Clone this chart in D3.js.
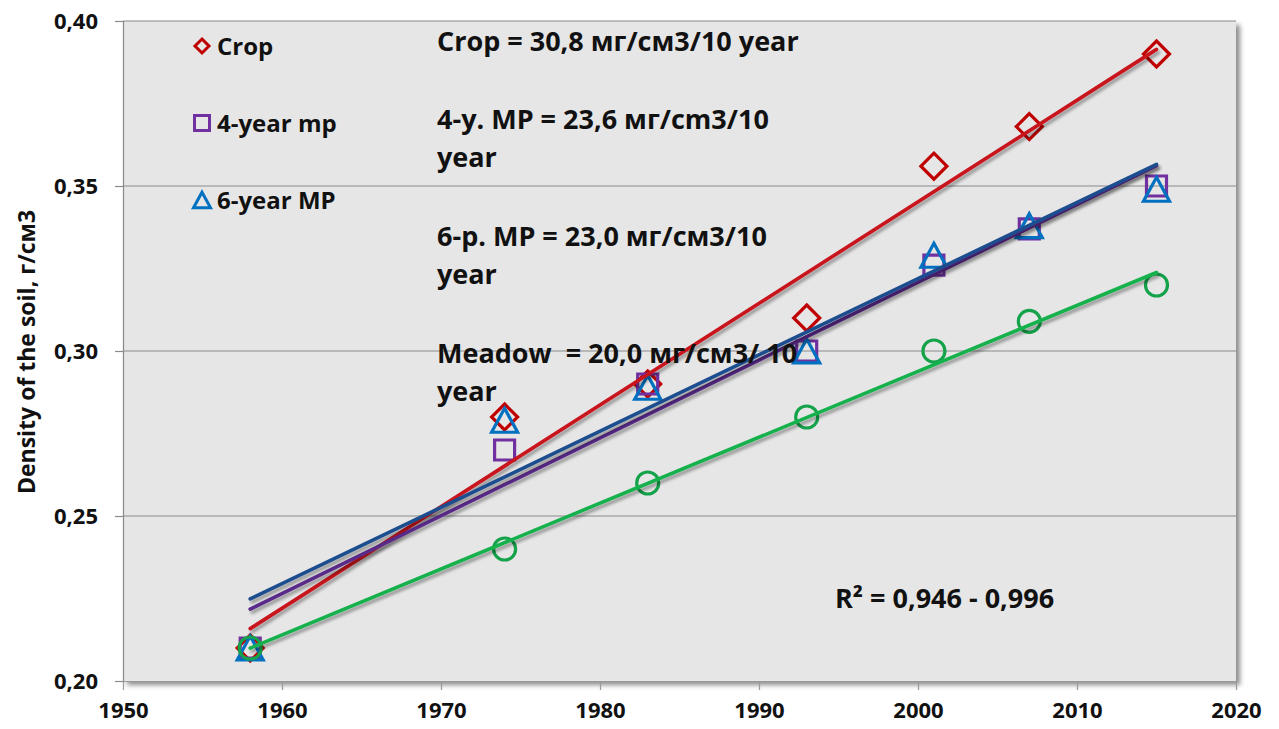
<!DOCTYPE html>
<html>
<head>
<meta charset="utf-8">
<script src="https://cdn.jsdelivr.net/npm/d3@7"></script>
<style>
  html, body { margin: 0; padding: 0; background: #ffffff; }
  svg { display: block; }
  text { font-family: "Open Sans", Lato, sans-serif; font-weight: bold; fill: #111; white-space: pre; }
</style>
</head>
<body>
<svg id="chart" width="1279" height="729"></svg>
<script>
// ---- data ----
const years = [1958, 1974, 1983, 1993, 2001, 2007, 2015];
const cropValues = [0.21, 0.28, 0.29, 0.31, 0.356, 0.368, 0.39];
const mp4Values = [0.21, 0.27, 0.29, 0.30, 0.326, 0.337, 0.35];
const mp6Values = [0.21, 0.279, 0.289, 0.30, 0.329, 0.338, 0.349];
const meadowValues = [0.21, 0.24, 0.26, 0.28, 0.30, 0.309, 0.32];

const seriesNames = ["Crop", "4-year mp", "6-year MP", "Meadow"];
const xTicks = [1950, 1960, 1970, 1980, 1990, 2000, 2010, 2020];
const yTicks = [0.20, 0.25, 0.30, 0.35, 0.40];

const annotationLines = [
  ["Crop = 30,8 мг/см3/10 year"],
  ["4-y. MP = 23,6 мг/cm3/10", "year"],
  ["6-р. MP = 23,0 мг/см3/10", "year"],
  ["Meadow  = 20,0 мг/см3/ 10", "year"]
];
const r2Text = "R² = 0,946 - 0,996";
const yTitle = "Density of the soil, г/см3";

// ---- layout ----
const svg = d3.select("#chart");
const plot = { left: 123, top: 21, right: 1236, bottom: 681 };

const x = d3.scaleLinear().domain([1950, 2020]).range([plot.left, plot.right]);
const y = d3.scaleLinear().domain([0.20, 0.40]).range([plot.bottom, plot.top]);

const styles = [
  { marker: "diamond", mColor: "#C00000", lColor: "#C8121C", size: 26 },
  { marker: "square", mColor: "#7030A0", lColor: "#5A2A8A", size: 20 },
  { marker: "triangle", mColor: "#0070C0", lColor: "#1F4E8F", size: 26 },
  { marker: "circle", mColor: "#14A24A", lColor: "#18B14E", size: 22 }
];
const seriesValues = [cropValues, mp4Values, mp6Values, meadowValues];

const defs = svg.append("defs");
const f1 = defs.append("filter").attr("id", "plotShadow")
  .attr("x", "-5%").attr("y", "-5%").attr("width", "110%").attr("height", "110%");
f1.append("feDropShadow").attr("dx", 4).attr("dy", 4).attr("stdDeviation", 2.5)
  .attr("flood-color", "#000").attr("flood-opacity", 0.45);
const f2 = defs.append("filter").attr("id", "lineShadow")
  .attr("x", "-10%").attr("y", "-10%").attr("width", "120%").attr("height", "130%");
f2.append("feDropShadow").attr("dx", 2).attr("dy", 3).attr("stdDeviation", 1.5)
  .attr("flood-color", "#000").attr("flood-opacity", 0.35);

// plot background
svg.append("rect")
  .attr("x", plot.left).attr("y", plot.top)
  .attr("width", plot.right - plot.left).attr("height", plot.bottom - plot.top)
  .attr("fill", "#E6E6E6").attr("filter", "url(#plotShadow)");

// gridlines
svg.append("g").selectAll("line").data(yTicks.filter(d => d > 0.2)).join("line")
  .attr("x1", plot.left).attr("x2", plot.right)
  .attr("y1", d => y(d)).attr("y2", d => y(d))
  .attr("stroke", "#8a8a8a").attr("stroke-width", 1.2);

// y axis
const yAxis = d3.axisLeft(y).tickValues(yTicks)
  .tickFormat(d => d3.format(".2f")(d).replace(".", ","))
  .tickSize(8).tickPadding(17);
const gy = svg.append("g").attr("transform", `translate(${plot.left},0)`).call(yAxis);
gy.select(".domain").attr("stroke", "#8a8a8a").attr("stroke-width", 1.2);
gy.selectAll(".tick line").attr("stroke", "#8a8a8a").attr("stroke-width", 1.2);
gy.selectAll(".tick text").style("font-size", "22px").attr("fill", "#111")
  .style("font-family", "'Open Sans', sans-serif").style("font-weight", "bold");

// x axis
const xAxis = d3.axisBottom(x).tickValues(xTicks).tickFormat(d3.format("d"))
  .tickSize(9).tickPadding(12);
const gx = svg.append("g").attr("transform", `translate(0,${plot.bottom})`).call(xAxis);
gx.select(".domain").attr("stroke", "#9a9a9a").attr("stroke-width", 1);
gx.selectAll(".tick line").attr("stroke", "#9a9a9a").attr("stroke-width", 1.2);
gx.selectAll(".tick text").style("font-size", "22px").attr("fill", "#111")
  .style("font-family", "'Open Sans', sans-serif").style("font-weight", "bold");

// y title
svg.append("text")
  .attr("transform", `translate(35,352) rotate(-90)`)
  .attr("text-anchor", "middle")
  .style("font-size", "23px")
  .text(yTitle);

// marker paths
function markerPath(type, s) {
  const h = s / 2;
  if (type === "diamond") return `M0,${-h}L${h},0L0,${h}L${-h},0Z`;
  if (type === "square") return `M${-h},${-h}H${h}V${h}H${-h}Z`;
  if (type === "triangle") { const t = s * 0.92 / 2; return `M0,${-t}L${h},${t}L${-h},${t}Z`; }
  return null;
}

// markers
styles.forEach((st, i) => {
  const vals = seriesValues[i];
  const pts = years.map((yr, j) => [yr, vals[j]]);
  if (st.marker === "circle") {
    svg.append("g").selectAll("circle").data(pts).join("circle")
      .attr("cx", d => x(d[0])).attr("cy", d => y(d[1])).attr("r", st.size / 2)
      .attr("fill", "none").attr("stroke", st.mColor).attr("stroke-width", 3.2);
  } else {
    svg.append("g").selectAll("path").data(pts).join("path")
      .attr("transform", d => `translate(${x(d[0])},${y(d[1])})`)
      .attr("d", markerPath(st.marker, st.size))
      .attr("fill", "none").attr("stroke", st.mColor).attr("stroke-width", 3.2);
  }
});

// linear trend lines (least squares of each series)
function fit(xs, ys) {
  const mx = d3.mean(xs), my = d3.mean(ys);
  const sxy = d3.sum(xs, (v, k) => (v - mx) * (ys[k] - my));
  const sxx = d3.sum(xs, v => (v - mx) * (v - mx));
  const b = sxy / sxx;
  return v => my + b * (v - mx);
}
const line = d3.line().x(d => x(d[0])).y(d => y(d[1]));
styles.forEach((st, i) => {
  const f = fit(years, seriesValues[i]);
  const ends = [years[0], years[years.length - 1]];
  svg.append("path")
    .attr("d", line(ends.map(v => [v, f(v)])))
    .attr("fill", "none").attr("stroke", st.lColor).attr("stroke-width", 3.6)
    .attr("stroke-linecap", "round").attr("filter", "url(#lineShadow)");
});

// legend (first three series)
const legendY = [46, 123, 200];
const legendSize = [14, 15, 17];
[0, 1, 2].forEach(i => {
  const st = styles[i];
  const g = svg.append("g").attr("transform", `translate(202,${legendY[i]})`);
  g.append("path").attr("d", markerPath(st.marker, legendSize[i]))
    .attr("fill", "none").attr("stroke", st.mColor).attr("stroke-width", 3);
  g.append("text").attr("x", 15).attr("y", 9).style("font-size", "24px").text(seriesNames[i]);
});

// annotations
const annY = [51, 129, 246, 363];
annotationLines.forEach((lines, i) => {
  lines.forEach((t, k) => {
    svg.append("text").attr("x", 437).attr("y", annY[i] + k * 38)
      .style("font-size", "27px").text(t);
  });
});
svg.append("text").attr("x", 835).attr("y", 608).style("font-size", "27px").text(r2Text);
</script>
</body>
</html>
